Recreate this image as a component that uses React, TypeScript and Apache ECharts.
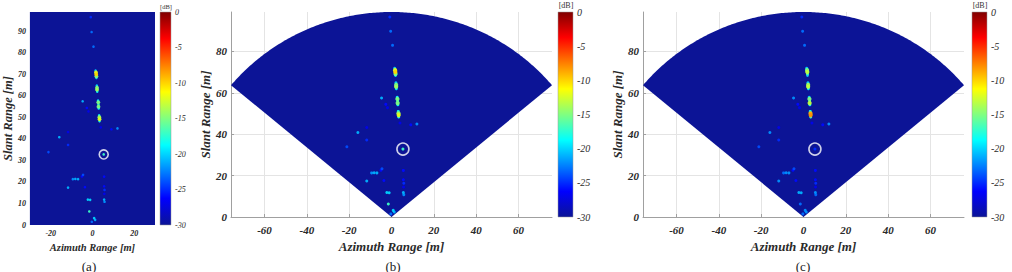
import React, { useEffect, useRef } from "react";
import * as echarts from "echarts";

const SERIF = "'Liberation Serif', 'Times New Roman', Times, serif";

// jet colour map, from -30 dB (low) to 0 dB (high)
const jetColors = ["#0c1496", "#0000ff", "#0080ff", "#00ffff", "#80ff80", "#ffff00", "#ff8000", "#ff0000", "#800000"];
const DB_MIN = -30;
const DB_MAX = 0;

// imaged sector: apex at the radar, radius and half opening angle
const SECTOR_RADIUS = 99;
const SECTOR_HALF_ANGLE = 50;
const sectorApex = [[0, 0]];

// tick values
const azimuthTicksPolar = [-60, -40, -20, 0, 20, 40, 60];
const slantTicksPolar = [0, 20, 40, 60, 80];

// scatterer positions [m] and intensities [dB] for the two focusing results
const spotX = [
  -0.8, -0.4, 0.5,
  1.5, 1.7, 1.8, 1.9, 1.9,
  2.1, 2.2, 2.2, 2.3,
  2.7, 2.8, 2.9, 2.9, 3.0,
  3.2, 3.3, 3.4, 3.4,
  -4.7, -2.7, -1.9, 12.0, 9.1, 4.0, -15.9, -11.7, -11.7, -21.1,
  5.4,
  -4.5, 5.6, -9.4, -8.2, -6.9, -5.0, -11.7, -3.6, 5.6, 5.8, 5.7, 5.6, 5.8,
  -2.2, -1.1, -1.5, 0.8, 1.3, -0.3,
];
const spotY = [
  96.6, 89.7, 82.9,
  71.8, 70.9, 70.0, 69.1, 68.4,
  64.8, 63.8, 62.9, 62.0,
  57.8, 57.0, 56.0, 55.0, 54.2,
  51.0, 50.1, 49.2, 48.3,
  57.5, 54.4, 52.8, 44.9, 44.5, 45.4, 40.8, 43.2, 37.2, 33.9,
  32.8,
  23.3, 22.5, 21.3, 21.4, 21.3, 22.6, 17.4, 17.6, 18.0, 16.3, 14.5, 11.8, 10.8,
  11.8, 11.7, 6.3, 3.2, 2.4, 1.5,
];
const spotDbB = [
  -25, -23, -23,
  -20, -12, -10, -15, -20,
  -20, -15, -14, -19,
  -19, -15, -18, -15, -19,
  -19, -14, -12, -18,
  -21, -26, -27, -22, -26, -27, -21, -27, -25, -24,
  -17,
  -24, -26, -22, -21, -21, -26, -21, -26, -26, -25, -27, -21, -22,
  -20, -20, -17, -20, -21, -23,
];
const spotDbC = [
  -25, -23, -23,
  -20, -15, -13, -17, -21,
  -20, -14, -13, -19,
  -20, -15, -17, -13, -19,
  -19, -9, -8, -17,
  -22, -26, -27, -22, -26, -27, -22, -27, -25, -24,
  -25,
  -24, -26, -23, -22, -22, -26, -22, -26, -26, -25, -27, -22, -23,
  -21, -21, -23, -22, -22, -23,
];

// highlighted target
const targetX = [5.4];
const targetY = [32.8];

function spots(db: number[]) {
  const pts = spotX.map((x, i) => [x, spotY[i], db[i]]);
  // brighter returns drawn last
  return pts.sort((a, b) => a[2] - b[2]);
}
const targetData = targetX.map((x, i) => [x, targetY[i]]);

const AZ_EXTENT = SECTOR_RADIUS * Math.sin((SECTOR_HALF_ANGLE * Math.PI) / 180);

const TEXT = "#2a2a2a";

const tickLabel = (size: number, margin: number) => ({
  fontFamily: SERIF,
  fontStyle: "italic" as const,
  fontWeight: "bold" as const,
  fontSize: size,
  color: TEXT,
  margin,
});
const nameStyle = (size: number) => ({
  fontFamily: SERIF,
  fontStyle: "italic" as const,
  fontWeight: "bold" as const,
  fontSize: size,
  color: TEXT,
});

function sectorSeries(axisIndex: number) {
  return {
    type: "custom",
    xAxisIndex: axisIndex,
    yAxisIndex: axisIndex,
    silent: true,
    data: sectorApex,
    renderItem: (_p: any, api: any) => {
      const cx = api.value(0);
      const cy = api.value(1);
      const pts: number[][] = [api.coord([cx, cy])];
      for (let a = -SECTOR_HALF_ANGLE; a <= SECTOR_HALF_ANGLE + 1e-9; a += 0.5) {
        const r = (a * Math.PI) / 180;
        pts.push(api.coord([cx + SECTOR_RADIUS * Math.sin(r), cy + SECTOR_RADIUS * Math.cos(r)]));
      }
      return { type: "polygon", shape: { points: pts }, style: { fill: jetColors[0] } };
    },
  };
}

function colorbarSeries(axisIndex: number) {
  return {
    type: "custom",
    xAxisIndex: axisIndex,
    yAxisIndex: axisIndex,
    silent: true,
    data: [[DB_MIN, DB_MAX]],
    renderItem: (_p: any, api: any) => {
      const p0 = api.coord([0, api.value(0)]);
      const p1 = api.coord([1, api.value(1)]);
      return {
        type: "rect",
        shape: { x: p0[0], y: p1[1], width: p1[0] - p0[0], height: p0[1] - p1[1] },
        style: {
          fill: new echarts.graphic.LinearGradient(
            0, 1, 0, 0,
            jetColors.map((c, i) => ({ offset: i / (jetColors.length - 1), color: c }))
          ),
          stroke: "#9a9a9a",
          lineWidth: 0.5,
        },
      };
    },
  };
}

function spotSeries(axisIndex: number, db: number[], base: number) {
  return {
    type: "scatter",
    xAxisIndex: axisIndex,
    yAxisIndex: axisIndex,
    symbol: "circle",
    // stronger returns spread over a slightly larger blob
    symbolSize: (v: number[]) => (v[2] >= -16 ? base + 1.2 : base),
    silent: true,
    itemStyle: { opacity: 0.95 },
    data: spots(db),
  };
}

function ringSeries(axisIndex: number, size: number) {
  return {
    type: "scatter",
    xAxisIndex: axisIndex,
    yAxisIndex: axisIndex,
    symbol: "circle",
    symbolSize: size,
    silent: true,
    z: 5,
    itemStyle: { color: "rgba(0,0,0,0)", borderColor: "#ffffff", borderWidth: 1.6 },
    data: targetData,
  };
}

function polarXAxis(gridIndex: number) {
  return {
    type: "value",
    gridIndex,
    min: -AZ_EXTENT,
    max: AZ_EXTENT,
    name: "Azimuth Range [m]",
    nameLocation: "middle",
    nameGap: 18,
    nameTextStyle: nameStyle(13),
    axisLine: { show: true, onZero: false, lineStyle: { color: "#a0a0a0", width: 1 } },
    axisTick: { show: true, inside: true, length: 3, customValues: azimuthTicksPolar, lineStyle: { color: "#a0a0a0" } },
    axisLabel: { ...tickLabel(11, 7), customValues: azimuthTicksPolar },
    splitLine: { show: true, lineStyle: { color: "#e4e4e4", width: 1 } },
  };
}

function polarYAxis(gridIndex: number) {
  return {
    type: "value",
    gridIndex,
    min: 0,
    max: SECTOR_RADIUS,
    name: "Slant Range [m]",
    nameLocation: "middle",
    nameGap: 17,
    nameTextStyle: nameStyle(13),
    axisLine: { show: true, onZero: false, lineStyle: { color: "#a0a0a0", width: 1 } },
    axisTick: { show: true, inside: true, length: 3, customValues: slantTicksPolar, lineStyle: { color: "#a0a0a0" } },
    axisLabel: { ...tickLabel(11, 4), customValues: slantTicksPolar },
    splitLine: { show: true, lineStyle: { color: "#e4e4e4", width: 1 } },
  };
}

function colorbarXAxis(gridIndex: number) {
  return { type: "value", gridIndex, min: 0, max: 1, show: false };
}

function colorbarYAxis(gridIndex: number, size: number) {
  return {
    type: "value",
    gridIndex,
    min: DB_MIN,
    max: DB_MAX,
    interval: 5,
    position: "right",
    axisLine: { show: false },
    axisTick: { show: false },
    splitLine: { show: false },
    axisLabel: {
      fontFamily: SERIF,
      fontStyle: "italic",
      fontSize: size,
      color: TEXT,
      margin: 4,
    },
  };
}

const captionStyle = { fontFamily: SERIF, fontSize: 13, fill: "#222" };
const unitStyle = (size: number) => ({ fontFamily: SERIF, fontSize: size, fill: "#333" });

export default function App() {
  const ref = useRef<HTMLDivElement>(null);

  useEffect(() => {
    if (!ref.current) return;
    const chart = echarts.init(ref.current, null, { renderer: "svg" });
    chart.setOption({
      animation: false,
      backgroundColor: "#ffffff",
      textStyle: { fontFamily: SERIF },
      grid: [
        { left: 23, top: 12, width: 132, height: 213, show: true, backgroundColor: jetColors[0], borderWidth: 0 },
        { left: 160, top: 12, width: 11, height: 213 },
        { left: 231, top: 12, width: 321, height: 205 },
        { left: 558, top: 12, width: 15, height: 205 },
        { left: 643, top: 12, width: 321, height: 205 },
        { left: 972, top: 12, width: 15, height: 205 },
      ],
      xAxis: [
        {
          type: "value",
          gridIndex: 0,
          min: -30,
          max: 30,
          interval: 10,
          name: "Azimuth Range [m]",
          nameLocation: "middle",
          nameGap: 15,
          nameTextStyle: nameStyle(10.5),
          axisLine: { show: false },
          axisTick: { show: false },
          splitLine: { show: false },
          axisLabel: {
            ...tickLabel(8, 4),
            formatter: (v: number) => (v % 20 === 0 ? String(v) : ""),
          },
        },
        colorbarXAxis(1),
        polarXAxis(2),
        colorbarXAxis(3),
        polarXAxis(4),
        colorbarXAxis(5),
      ],
      yAxis: [
        {
          type: "value",
          gridIndex: 0,
          min: 0,
          max: SECTOR_RADIUS,
          interval: 10,
          name: "Slant Range [m]",
          nameLocation: "middle",
          nameGap: 10,
          nameTextStyle: nameStyle(12.5),
          axisLine: { show: false },
          axisTick: { show: false },
          splitLine: { show: false },
          axisLabel: {
            ...tickLabel(8, 4),
            formatter: (v: number) => (v % 10 === 0 ? String(v) : ""),
          },
        },
        colorbarYAxis(1, 8),
        polarYAxis(2),
        colorbarYAxis(3, 10),
        polarYAxis(4),
        colorbarYAxis(5, 10),
      ],
      visualMap: {
        type: "continuous",
        show: false,
        min: DB_MIN,
        max: DB_MAX,
        dimension: 2,
        seriesIndex: [1, 4, 6],
        inRange: { color: jetColors },
      },
      series: [
        sectorSeries(2),
        spotSeries(2, spotDbB, 3),
        ringSeries(2, 12),
        sectorSeries(4),
        spotSeries(4, spotDbC, 3),
        ringSeries(4, 12),
        spotSeries(0, spotDbB, 2.6),
        ringSeries(0, 9),
        colorbarSeries(1),
        colorbarSeries(3),
        colorbarSeries(5),
      ],
      graphic: [
        { type: "text", x: 166, y: 6, style: { ...unitStyle(6.5), text: "[dB]", align: "center", verticalAlign: "middle" } },
        { type: "text", x: 566, y: 5, style: { ...unitStyle(8), text: "[dB]", align: "center", verticalAlign: "middle" } },
        { type: "text", x: 980, y: 5, style: { ...unitStyle(8), text: "[dB]", align: "center", verticalAlign: "middle" } },
        { type: "text", x: 89, y: 266, style: { ...captionStyle, text: "(a)", align: "center", verticalAlign: "middle" } },
        { type: "text", x: 393, y: 266, style: { ...captionStyle, text: "(b)", align: "center", verticalAlign: "middle" } },
        { type: "text", x: 803, y: 266, style: { ...captionStyle, text: "(c)", align: "center", verticalAlign: "middle" } },
      ],
    });
    return () => chart.dispose();
  }, []);

  return (
    <div
      ref={ref}
      style={{ position: "fixed", left: 0, top: 0, width: 1012, height: 272 }}
    />
  );
}
